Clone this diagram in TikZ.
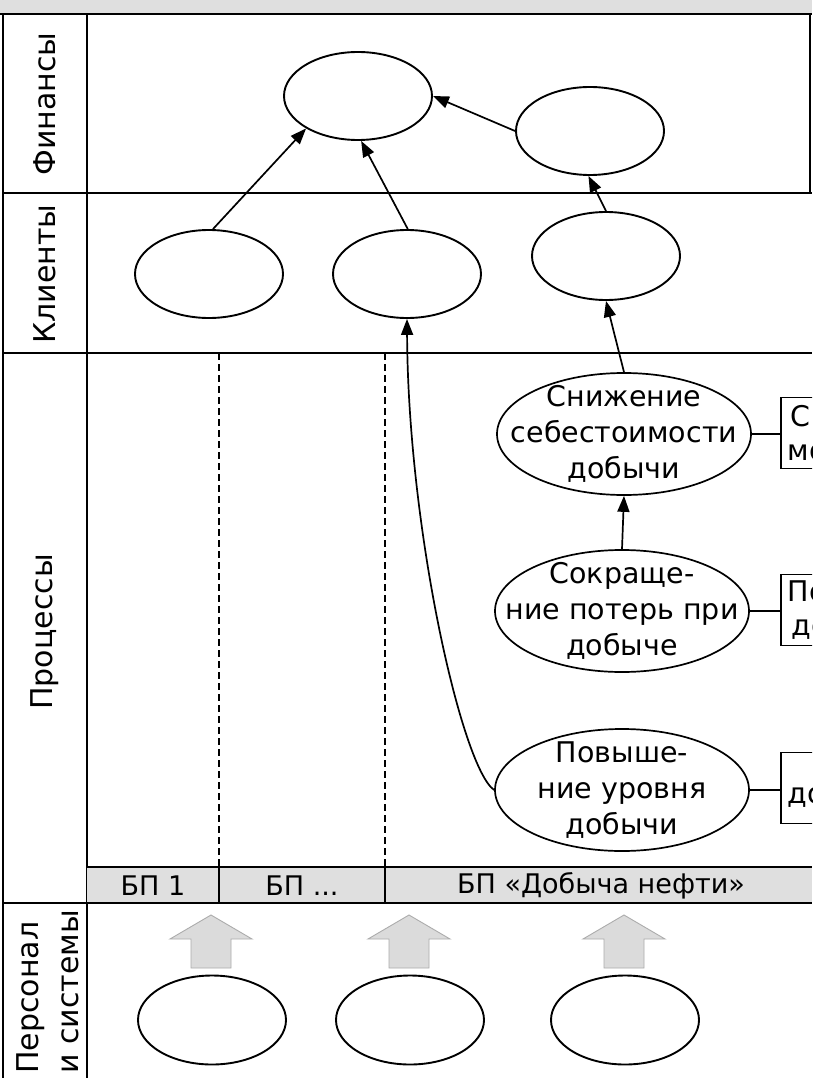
\documentclass[tikz,border=0pt]{standalone}
\usepackage{fontspec}
\setmainfont{DejaVu Sans}
\usetikzlibrary{shapes.geometric,arrows.meta}
\begin{document}
\begin{tikzpicture}[x=1pt,y=-1pt,
  frame/.style={line width=2pt,black},
  sep/.style={line width=2.4pt,black},
  ell/.style={ellipse,draw,line width=1.9pt,fill=white,minimum width=148pt,minimum height=88pt,inner sep=0pt},
  pell/.style={ellipse,draw,line width=1.7pt,fill=white,minimum width=254pt,minimum height=122pt,inner sep=0pt},
  ptxt/.style={font=\fontsize{28.5}{36}\selectfont,align=center},
  lane/.style={font=\fontsize{30}{40}\selectfont,rotate=90},
  bptxt/.style={font=\fontsize{27}{30}\selectfont},
  boxn/.style={draw,line width=1.7pt,fill=white,anchor=west,minimum width=200pt,minimum height=71pt,text width=186pt,inner xsep=7pt,align=left,font=\fontsize{28.5}{34}\selectfont},
  arr/.style={-{Triangle[length=16pt,width=12pt]},line width=1.7pt},
  link/.style={line width=1.7pt},
  dsh/.style={line width=1.6pt,dash pattern=on 7pt off 4pt},
  blk/.style={fill=gray!28,draw=gray!65,line width=0.9pt}
]
\useasboundingbox (0,0) rectangle (812,1078);
\clip (0,0) rectangle (812,1078);
\fill[white] (0,0) rectangle (812,1078);

% top strip
\fill[gray!25] (0,0) rectangle (812,14);
\draw[sep] (0,14) -- (812,14);

% frame
\draw[frame] (3,14) -- (3,1078);
\draw[frame] (87,14) -- (87,1078);
\draw[frame] (810,14) -- (810,193);
\draw[sep] (3,193) -- (812,193);
\draw[sep] (3,353) -- (812,353);

% BP band
\fill[gray!25] (87,867) rectangle (812,903);
\draw[line width=1.3pt] (87,867) -- (812,867);
\draw[sep] (3,903) -- (812,903);
\draw[line width=1.3pt] (219,867) -- (219,903);
\draw[line width=1.3pt] (385,867) -- (385,903);
\draw[dsh] (219,353) -- (219,867);
\draw[dsh] (385,353) -- (385,867);
\node[bptxt] (bp1) at (153,886) {БП 1};
\node[bptxt] (bp2) at (302,886) {БП ...};
\node[bptxt] (bp3) at (601,886) {БП «Добыча нефти»};

% lane labels
\node[lane] (lf) at (45,104) {Финансы};
\node[lane] (lc) at (45,274) {Клиенты};
\node[lane] (lp) at (45,632) {Процессы};
\node[lane,align=left] (ls) at (48,992) {Персонал\\и системы};

% finance
\node[ell] (F1) at (358,96) {};
\node[ell] (F2) at (590,131) {};
% clients
\node[ell] (C1) at (209,274) {};
\node[ell] (C2) at (407,274) {};
\node[ell] (C3) at (606,256) {};

% processes
\node[pell,label={[ptxt]center:Снижение\\себестоимости\\добычи}] (P1) at (624,434) {};
\node[pell,label={[ptxt]center:Сокраще-\\ние потерь при\\добыче}] (P2) at (622,611) {};
\node[pell,label={[ptxt]center:Повыше-\\ние уровня\\добычи}] (P3) at (622,790) {};

% boxes
\node[boxn] (B1) at (780,433) {\hspace*{3pt}С\\мо};
\node[boxn] (B2) at (780,610) {По\\\hspace*{4pt}до};
\node[boxn] (B3) at (780,788) {\mbox{}\\до};
\draw[link] (P1.east) -- (P1.east -| B1.west);
\draw[link] (P2.east) -- (P2.east -| B2.west);
\draw[link] (P3.east) -- (P3.east -| B3.west);

% arrows
\draw[arr] (C1.85) -- (F1.212);
\draw[arr] (C2.89) -- (F1.274);
\draw[arr] (F2.180) -- (F1.0);
\draw[arr] (C3.north) -- (F2.268);
\draw[arr] (P1.north) -- (C3.south);
\draw[arr] (P2.north) -- (P1.south);
\draw[arr] (P3.west) .. controls (462,768) and (408,530) .. (C2.south);

% resources
\node[ell,minimum width=148pt,minimum height=89pt] (E1) at (212,1020) {};
\node[ell,minimum width=148pt,minimum height=89pt] (E2) at (410,1020) {};
\node[ell,minimum width=148pt,minimum height=89pt] (E3) at (625,1020) {};
\foreach \x in {211,409,624}{
  \draw[blk] (\x,915) -- (\x+41,939) -- (\x+20,939) -- (\x+20,968) -- (\x-20,968) -- (\x-20,939) -- (\x-41,939) -- cycle;
}
\end{tikzpicture}
\end{document}
